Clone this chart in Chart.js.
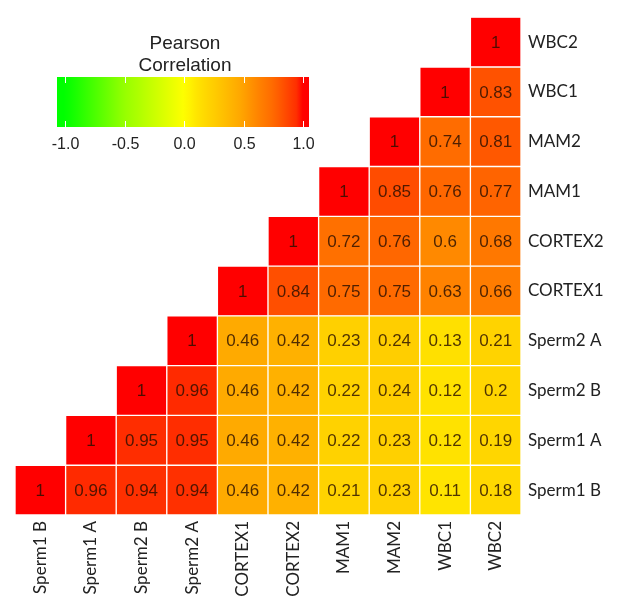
<!DOCTYPE html>
<html>
<head>
<meta charset="utf-8">
<script src="https://cdn.jsdelivr.net/npm/chart.js@4.4.1/dist/chart.umd.min.js"></script>
<style>
  html, body { margin: 0; padding: 0; background: #fff; }
  #wrap { width: 617px; height: 602px; }
</style>
</head>
<body>
<div id="wrap"><canvas id="heat"></canvas></div>
<script>
// ================= DATA =================
const samples = ["Sperm1 B", "Sperm1 A", "Sperm2 B", "Sperm2 A", "CORTEX1", "CORTEX2", "MAM1", "MAM2", "WBC1", "WBC2"];

// each row: correlation of the sample with itself and every sample to its right
const rowSperm1B = [1, 0.96, 0.94, 0.94, 0.46, 0.42, 0.21, 0.23, 0.11, 0.18];
const rowSperm1A = [1, 0.95, 0.95, 0.46, 0.42, 0.22, 0.23, 0.12, 0.19];
const rowSperm2B = [1, 0.96, 0.46, 0.42, 0.22, 0.24, 0.12, 0.2];
const rowSperm2A = [1, 0.46, 0.42, 0.23, 0.24, 0.13, 0.21];
const rowCortex1 = [1, 0.84, 0.75, 0.75, 0.63, 0.66];
const rowCortex2 = [1, 0.72, 0.76, 0.6, 0.68];
const rowMam1    = [1, 0.85, 0.76, 0.77];
const rowMam2    = [1, 0.74, 0.81];
const rowWbc1    = [1, 0.83];
const rowWbc2    = [1];
const rows = [rowSperm1B, rowSperm1A, rowSperm2B, rowSperm2A, rowCortex1, rowCortex2, rowMam1, rowMam2, rowWbc1, rowWbc2];

const legendTitle = ["Pearson", "Correlation"];
const legendTicks = [-1.0, -0.5, 0.0, 0.5, 1.0];

// ================= COLOUR SCALE =================
const colorStops = [
  [-1, [0, 255, 0]], [-0.5, [150, 255, 0]], [0, [255, 255, 0]], [0.12, [255, 226, 0]],
  [0.46, [255, 170, 0]], [0.63, [255, 130, 0]], [0.75, [255, 106, 0]],
  [0.96, [255, 42, 0]], [1, [255, 0, 0]]
];
function colorFor(v) {
  for (let k = 1; k < colorStops.length; k++) {
    const [v1, c1] = colorStops[k];
    const [v0, c0] = colorStops[k - 1];
    if (v <= v1) {
      const t = (v - v0) / (v1 - v0);
      const c = c0.map((x, i) => Math.round(x + (c1[i] - x) * t));
      return `rgb(${c[0]},${c[1]},${c[2]})`;
    }
  }
  return "rgb(255,0,0)";
}

// ================= DATASETS =================
const datasets = rows.map((row, j) => ({
  label: samples[j],
  data: samples.map((s, i) => i >= j ? [j, j + 1] : null),
  corr: samples.map((s, i) => i >= j ? row[i - j] : null),
  backgroundColor: samples.map((s, i) => i >= j ? colorFor(row[i - j]) : "rgba(0,0,0,0)"),
  borderColor: "#ffffff",
  borderWidth: 1,
  borderSkipped: false,
  grouped: false,
  barPercentage: 1,
  categoryPercentage: 1
}));

// ================= PLUGINS =================
const cellText = {
  id: "cellText",
  afterDatasetsDraw(chart) {
    const ctx = chart.ctx;
    ctx.save();
    ctx.font = "17px 'Liberation Sans', Arial, sans-serif";
    ctx.fillStyle = "rgba(40,15,0,0.82)";
    ctx.textAlign = "center";
    ctx.textBaseline = "middle";
    chart.data.datasets.forEach((ds, j) => {
      chart.getDatasetMeta(j).data.forEach((el, i) => {
        if (ds.corr[i] === null) return;
        const p = el.getCenterPoint();
        ctx.fillText(String(ds.corr[i]), p.x, p.y + 1);
      });
    });
    ctx.restore();
  }
};

const colorBar = {
  id: "colorBar",
  afterDraw(chart) {
    const ctx = chart.ctx;
    const x0 = 57, x1 = 309, y0 = 77, y1 = 127;
    const zero = 184, unit = 119;
    ctx.save();
    const g = ctx.createLinearGradient(x0, 0, x1, 0);
    for (let s = 0; s <= 40; s++) {
      const v = Math.max(-1, Math.min(1, ((x0 + (x1 - x0) * s / 40) - zero) / unit));
      g.addColorStop(s / 40, colorFor(v));
    }
    ctx.fillStyle = g;
    ctx.fillRect(x0, y0, x1 - x0, y1 - y0);
    ctx.strokeStyle = "#ffffff";
    ctx.lineWidth = 1;
    ctx.fillStyle = "#222";
    ctx.font = "16px 'Liberation Sans', Arial, sans-serif";
    ctx.textAlign = "center";
    ctx.textBaseline = "middle";
    legendTicks.forEach(t => {
      const x = Math.round(zero + t * unit) + 0.5;
      ctx.beginPath();
      ctx.moveTo(x, y0); ctx.lineTo(x, y0 + 6);
      ctx.moveTo(x, y1 - 6); ctx.lineTo(x, y1);
      ctx.stroke();
      ctx.fillText(t.toFixed(1), x, 145);
    });
    ctx.font = "19px 'Liberation Sans', Arial, sans-serif";
    ctx.fillText(legendTitle[0], 185, 44);
    ctx.fillText(legendTitle[1], 185, 66);
    ctx.restore();
  }
};

// ================= CHART =================
new Chart(document.getElementById("heat"), {
  type: "bar",
  data: { labels: samples, datasets: datasets },
  options: {
    responsive: true,
    maintainAspectRatio: false,
    animation: false,
    layout: { padding: { left: 15, top: 9, right: 0, bottom: 0 } },
    plugins: { legend: { display: false }, tooltip: { enabled: false } },
    scales: {
      x: {
        type: "category",
        grid: { display: false, drawTicks: false },
        border: { display: false },
        ticks: {
          minRotation: 90, maxRotation: 90, padding: 6,
          color: "#222", font: { family: "Lato", size: 17 }
        },
        afterFit(scale) { scale.height = 87; }
      },
      y: {
        type: "linear",
        position: "right",
        min: 0, max: 10,
        grid: { display: false, drawTicks: false },
        border: { display: false },
        afterBuildTicks(scale) { scale.ticks = samples.map((s, i) => ({ value: i + 0.5 })); },
        ticks: {
          padding: 7, color: "#222", font: { family: "Lato", size: 17 },
          callback: (v) => samples[Math.round(v - 0.5)]
        },
        afterFit(scale) { scale.width = 96; }
      }
    }
  },
  plugins: [cellText, colorBar]
});
</script>
</body>
</html>
